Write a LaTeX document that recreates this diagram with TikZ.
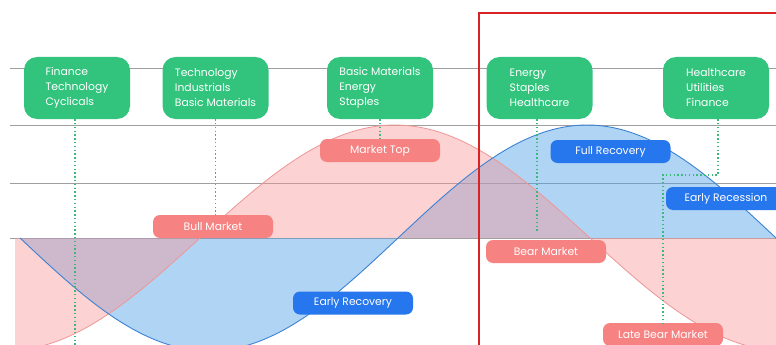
\documentclass[tikz,border=0pt]{standalone}
\usepackage{fontspec}
\setmainfont{Poppins}
\definecolor{boxgreen}{RGB}{50,196,125}
\definecolor{dotgreen}{RGB}{60,185,120}
\definecolor{pinkfill}{RGB}{248,150,150}
\definecolor{pinkline}{RGB}{238,150,150}
\definecolor{bluefill}{RGB}{80,160,232}
\definecolor{blueline}{RGB}{60,130,210}
\definecolor{pinklab}{RGB}{247,130,130}
\definecolor{bluelab}{RGB}{38,118,238}
\definecolor{redframe}{RGB}{215,35,35}
\tikzset{
  sector/.style={fill=boxgreen, rounded corners=13pt, text=white, align=left,
    minimum width=106pt, minimum height=62pt, inner sep=0pt,
    font=\fontsize{10.8}{15}\selectfont},
  pinklabel/.style={fill=pinklab, rounded corners=7pt, text=white,
    minimum width=120pt, minimum height=23pt, inner sep=0pt,
    font=\fontsize{10.8}{12}\selectfont},
  bluelabel/.style={fill=bluelab, rounded corners=7pt, text=white,
    minimum width=120pt, minimum height=23pt, inner sep=0pt,
    font=\fontsize{10.8}{12}\selectfont},
  guide/.style={draw=dotgreen, line width=1.6pt, dash pattern=on 1.4pt off 2.4pt},
  rule/.style={draw=gray!75, line width=0.9pt}
}
\begin{document}
\begin{tikzpicture}[x=1pt,y=-1pt]
\useasboundingbox (0,0) rectangle (776,345);
\clip (0,0) rectangle (776,345);
\fill[white] (0,0) rectangle (776,345);
% horizontal rules
\draw[rule] (10,68) -- (776,68);
\draw[rule] (10,125) -- (776,125);
\draw[rule] (10,183) -- (776,183);
\draw[rule] (10,238) -- (776,238);
% fills
\fill[bluefill, fill opacity=0.45] (20,238) -- plot[domain=20:776, samples=150] (\x, {238+113*sin((\x-20)/378*180)}) -- cycle;
\fill[pinkfill, fill opacity=0.42] (15,238) -- plot[domain=15:776, samples=150] (\x, {238-113*sin((\x-200)/390*180)}) -- (776,238) -- cycle;
\draw[pinkline, line width=0.8pt] plot[domain=15:776, samples=150] (\x, {238-113*sin((\x-200)/390*180)});
\draw[blueline, line width=0.9pt] plot[domain=20:776, samples=150] (\x, {238+113*sin((\x-20)/378*180)});
% sector boxes
\node[sector] (s1) at (77,88) {Finance\\Technology\\Cyclicals};
\node[sector] (s2) at (215.5,88) {Technology\\Industrials\\Basic Materials};
\node[sector] (s3) at (380,88) {Basic Materials\\Energy\\Staples};
\node[sector] (s4) at (539.5,88) {Energy\\Staples\\Healthcare};
\node[sector] (s5) at (716,88) {Healthcare\\Utilities\\Finance};
% phase labels
\node[pinklabel] (top) at (380,150.5) {Market Top};
\node[pinklabel] (bull) at (213,226.5) {Bull Market};
\node[bluelabel] (erec) at (353,303) {Early Recovery};
\node[bluelabel] (full) at (610.5,151.5) {Full Recovery};
\node[bluelabel] (eres) at (726,198.5) {Early Recession};
\node[pinklabel] (bear) at (546,251.5) {Bear Market};
\node[pinklabel] (late) at (663,334.5) {Late Bear Market};
% guides
\coordinate (g1) at (75,345);
\coordinate (g4) at (537,233);
\coordinate (g5) at (718,175);
\coordinate (g5b) at (663,175);
\draw[guide] ([xshift=-2pt]s1.south) -- (g1);
\draw[guide] (s2.south) -- (s2.south |- bull.north);
\draw[guide] (s3.south) -- (top.north);
\draw[guide] ([xshift=-2.5pt]s4.south) -- (g4);
\draw[guide] ([xshift=2pt]s5.south) -- (g5) -- (g5b) -- ([yshift=-3pt]late.north);
% highlight frame
\draw[redframe, line width=2pt] (479,13) rectangle (800,370);
\end{tikzpicture}
\end{document}
